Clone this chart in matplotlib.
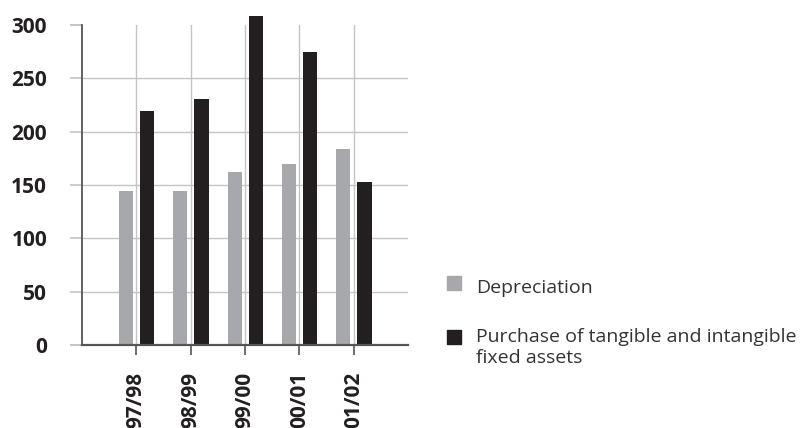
import matplotlib
matplotlib.use("Agg")
import matplotlib.pyplot as plt
from matplotlib.patches import Rectangle
import numpy as np

# Fiscal years and amounts
years = ["97/98", "98/99", "99/00", "00/01", "01/02"]
depreciation = [144, 144, 162, 170, 184]
purchases = [219, 231, 308, 275, 153]
y_ticks = [0, 50, 100, 150, 200, 250, 300]

series_labels = ["Depreciation", "Purchase of tangible and intangible\nfixed assets"]
GRAY = "#a7a8ab"
BLACK = "#231f20"
TEXT = "#231f20"
GRID = "#c4c4c4"
AXIS = "#555555"

plt.rcParams["font.family"] = ["Open Sans", "DejaVu Sans"]

W, H = 802, 428
fig = plt.figure(figsize=(W / 100, H / 100), dpi=100)
ax = fig.add_axes([82 / W, (H - 345) / H, (408 - 82) / W, (345 - 25) / H])

x = np.arange(len(years))
bw = 0.26
ax.bar(x - 0.19, depreciation, width=bw, color=GRAY, zorder=3, clip_on=False)
ax.bar(x + 0.20, purchases, width=bw, color=BLACK, zorder=3, clip_on=False)

ax.set_xlim(-1, 5)
ax.set_ylim(0, 300)

# gridlines: vertical at each year, horizontal between 0 and 300
for xi in x:
    ax.axvline(xi, color=GRID, lw=1.0, zorder=1)
for yv in y_ticks[1:-1]:
    ax.axhline(yv, color=GRID, lw=1.0, zorder=1)

for side in ["top", "right", "bottom"]:
    ax.spines[side].set_visible(False)
ax.spines["left"].set_color(AXIS)
ax.spines["left"].set_linewidth(1.3)
ax.axhline(0, color=AXIS, lw=1.6, zorder=4, clip_on=False)

ax.set_yticks(y_ticks)
ax.set_yticklabels([str(v) for v in y_ticks], fontsize=15, fontweight="bold", color=TEXT)
ax.tick_params(axis="y", length=8.6, width=1.2, pad=16.5, color=GRID)
yt = ax.yaxis.get_major_ticks()
for t in (yt[0], yt[-1]):
    t.tick1line.set_color(AXIS)
    t.tick1line.set_markeredgewidth(1.4)

ax.set_xticks(x)
ax.set_xticklabels(years, rotation=90, fontsize=15, fontweight="bold", color=TEXT, va="top")
ax.tick_params(axis="x", length=7.5, width=1.2, pad=12, color=AXIS)

# legend
def fx(px):
    return px / W

def fy(py):
    return (H - py) / H

fig.add_artist(Rectangle((fx(447), fy(290)), 14 / W, 14 / H, color=GRAY, transform=fig.transFigure))
fig.add_artist(Rectangle((fx(447), fy(344)), 14 / W, 14 / H, color=BLACK, transform=fig.transFigure))
fig.text(fx(476), fy(293), series_labels[0], fontsize=14, color="#333333", va="baseline", ha="left")
fig.text(fx(476), fy(328), series_labels[1], fontsize=14, color="#333333", va="top", ha="left",
         linespacing=1.2)

fig.savefig("out.png", dpi=100)
